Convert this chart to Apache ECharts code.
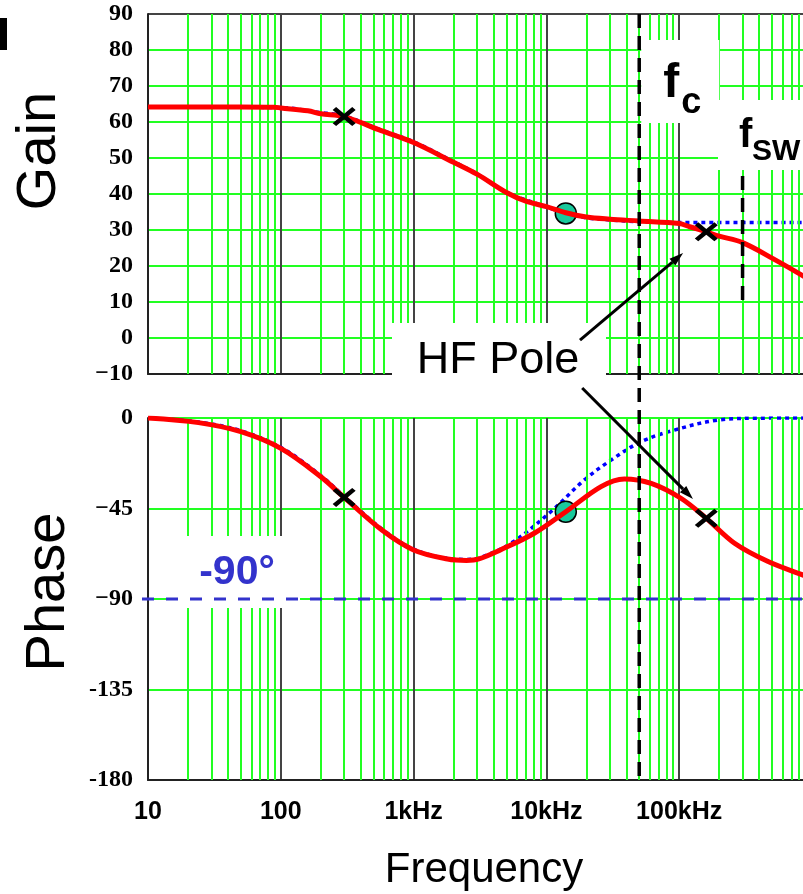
<!DOCTYPE html>
<html>
<head>
<meta charset="utf-8">
<script src="https://cdn.jsdelivr.net/npm/echarts@6/dist/echarts.min.js"></script>
<style>
  html, body { margin: 0; padding: 0; background: #fff; }
  #chart { width: 803px; height: 894px; }
</style>
</head>
<body>
<div id="chart"></div>
<script>
// Axis tick labels
const xTickLabels = ['10', '100', '1kHz', '10kHz', '100kHz'];
const gainTickLabels = ['\u221210', '0', '10', '20', '30', '40', '50', '60', '70', '80', '90'];
const phaseTickLabels = ['-180', '-135', '\u221290', '\u221245', '0'];

// Loop gain (dB): compensated response (red) and response without the HF pole (blue dotted)
const gainFreq = [10, 50, 90, 100, 160, 200, 300, 570, 1000, 2000, 3000, 5000, 7000, 10000, 14000, 20000, 30000, 50000, 100000, 120000, 160000, 200000, 300000, 500000, 877000, 1000000];
const gainRed  = [64.2, 64.2, 64.1, 63.9, 63.1, 62.3, 61.5, 57.6, 54.3, 48.8, 45.5, 40.4, 38.0, 36.5, 34.8, 33.6, 33.0, 32.5, 31.8, 30.9, 29.5, 28.3, 26.5, 22.2, 17.0, 15.3];
const gainBlueFreq = [10, 100, 200, 300, 570, 1000, 2000, 3000, 5000, 10000, 14000, 20000, 30000, 50000, 100000, 1000000];
const gainBlue     = [64.2, 64.0, 62.6, 61.7, 57.8, 54.5, 49.0, 45.6, 40.5, 36.4, 34.6, 33.4, 32.8, 32.3, 32.1, 32.1];

// Loop phase (degrees)
const phaseFreq = [10, 24, 50, 100, 200, 300, 577, 1000, 1800, 2500, 3100, 4500, 8100, 14000, 25800, 38600, 61500, 103000, 160000, 261000, 467000, 857000, 1000000];
const phaseRed  = [0, -2.3, -6.8, -15.1, -29.2, -39.5, -55.7, -65.6, -70.1, -70.8, -70.1, -65.6, -57.3, -46.6, -34.1, -30.3, -32.5, -39.9, -49.9, -62.3, -71.4, -78.1, -79.5];
const phaseBlueFreq = [10, 24, 50, 100, 200, 300, 577, 1000, 1800, 2500, 3100, 5400, 10800, 19300, 30700, 51600, 92000, 196000, 400000, 1000000];
const phaseBlue     = [0, -2.0, -6.3, -14.6, -28.6, -39.0, -55.2, -65.2, -69.8, -70.3, -69.6, -62.3, -46.6, -30.8, -20.9, -11.8, -6.0, -1.0, -0.1, 0];

// Pole (x) and zero (o) markers
const poleFreq  = [300, 160000];
const poleGain  = [61.5, 29.5];
const polePhase = [-39.5, -49.9];
const zeroFreq  = [14000];
const zeroGain  = [34.6];
const zeroPhase = [-46.6];

// Crossover and switching frequencies (Hz)
const fc = 50000;
const fsw = 300000;

const GREEN = '#22ff22';
const MAJOR = '#444444';

const pairs = (xs, ys) => xs.map((x, i) => [x, ys[i]]);

// minor log grid lines 2..9 within each decade
const minorLines = [];
for (let k = 1; k <= 5; k++) {
  for (let d = 2; d <= 9; d++) minorLines.push({ xAxis: d * Math.pow(10, k) });
}

const crossPath = 'path://M3,0 L10,7 L17,0 L20,3 L13,10 L20,17 L17,20 L10,13 L3,20 L0,17 L7,10 L0,3 Z';

function xAxisCfg(gridIndex, showLabels) {
  return {
    gridIndex, type: 'log', logBase: 10, min: 10, max: 1000000,
    axisLine: { show: true, onZero: false, lineStyle: { color: '#222', width: 2 } },
    axisTick: { show: false },
    axisLabel: showLabels ? {
      show: true, margin: 20, color: '#000',
      fontFamily: 'Liberation Sans', fontWeight: 'bold', fontSize: 25,
      formatter: v => xTickLabels[Math.round(Math.log10(v)) - 1] || ''
    } : { show: false },
    splitLine: { show: true, lineStyle: { color: MAJOR, width: 2 } }
  };
}

const gainSplitColors = [MAJOR].concat(Array(9).fill(GREEN), [MAJOR]);
const phaseSplitColors = [MAJOR, GREEN, GREEN, GREEN, GREEN];

const yLabel = {
  margin: 15, color: '#000',
  fontFamily: 'Liberation Serif', fontWeight: 'bold', fontSize: 24
};

const option = {
  animation: false,
  backgroundColor: '#fff',
  grid: [
    { left: 148, top: 14, width: 664, height: 360, outerBoundsMode: 'none', containLabel: false },
    { left: 148, top: 418, width: 664, height: 362, outerBoundsMode: 'none', containLabel: false }
  ],
  xAxis: [xAxisCfg(0, false), xAxisCfg(1, true)],
  yAxis: [
    {
      gridIndex: 0, type: 'value', min: -10, max: 90, interval: 10,
      axisLine: { show: true, onZero: false, lineStyle: { color: '#222', width: 2 } },
      axisTick: { show: false },
      axisLabel: Object.assign({ formatter: v => gainTickLabels[Math.round((v + 10) / 10)] }, yLabel),
      splitLine: { show: true, lineStyle: { color: gainSplitColors, width: 2 } }
    },
    {
      gridIndex: 1, type: 'value', min: -180, max: 0, interval: 45,
      axisLine: { show: true, onZero: false, lineStyle: { color: '#222', width: 2 } },
      axisTick: { show: false },
      axisLabel: Object.assign({ formatter: v => phaseTickLabels[Math.round((v + 180) / 45)] }, yLabel),
      splitLine: { show: true, lineStyle: { color: phaseSplitColors, width: 2 } }
    }
  ],
  series: [
    // minor frequency grid
    {
      type: 'line', xAxisIndex: 0, yAxisIndex: 0, data: [], z: 1, silent: true,
      markLine: { silent: true, symbol: ['none', 'none'], label: { show: false },
        lineStyle: { color: GREEN, width: 2, type: 'solid' }, data: minorLines }
    },
    {
      type: 'line', xAxisIndex: 1, yAxisIndex: 1, data: [], z: 1, silent: true,
      markLine: { silent: true, symbol: ['none', 'none'], label: { show: false },
        lineStyle: { color: GREEN, width: 2, type: 'solid' }, data: minorLines }
    },
    // responses without the HF pole
    {
      type: 'line', xAxisIndex: 0, yAxisIndex: 0, z: 3, smooth: 0.35, showSymbol: false,
      data: pairs(gainBlueFreq, gainBlue),
      lineStyle: { color: '#0000ff', width: 3.5, type: [4, 4], cap: 'butt' }
    },
    {
      type: 'line', xAxisIndex: 1, yAxisIndex: 1, z: 3, smooth: 0.35, showSymbol: false,
      data: pairs(phaseBlueFreq, phaseBlue),
      lineStyle: { color: '#0000ff', width: 3.5, type: [4, 4], cap: 'butt' }
    },
    // zero markers
    {
      type: 'scatter', xAxisIndex: 0, yAxisIndex: 0, z: 4, symbol: 'circle', symbolSize: 21,
      data: pairs(zeroFreq, zeroGain),
      itemStyle: { color: '#19c99c', borderColor: '#000', borderWidth: 1.5, opacity: 1 }
    },
    {
      type: 'scatter', xAxisIndex: 1, yAxisIndex: 1, z: 4, symbol: 'circle', symbolSize: 21,
      data: pairs(zeroFreq, zeroPhase),
      itemStyle: { color: '#19c99c', borderColor: '#000', borderWidth: 1.5, opacity: 1 }
    },
    // compensated responses
    {
      type: 'line', xAxisIndex: 0, yAxisIndex: 0, z: 5, smooth: 0.35, showSymbol: false,
      data: pairs(gainFreq, gainRed),
      lineStyle: { color: '#ff0000', width: 5 }
    },
    {
      type: 'line', xAxisIndex: 1, yAxisIndex: 1, z: 5, smooth: 0.35, showSymbol: false,
      data: pairs(phaseFreq, phaseRed),
      lineStyle: { color: '#ff0000', width: 5 }
    },
    // pole markers
    {
      type: 'scatter', xAxisIndex: 0, yAxisIndex: 0, z: 6, symbol: crossPath, symbolSize: [23, 19],
      data: pairs(poleFreq, poleGain), itemStyle: { color: '#000', opacity: 1 }
    },
    {
      type: 'scatter', xAxisIndex: 1, yAxisIndex: 1, z: 6, symbol: crossPath, symbolSize: [23, 19],
      data: pairs(poleFreq, polePhase), itemStyle: { color: '#000', opacity: 1 }
    }
  ]
};

const chart = echarts.init(document.getElementById('chart'), null, { renderer: 'canvas' });
chart.setOption(option);

const px = (g, f, v) => chart.convertToPixel({ gridIndex: g }, [f, v]);

function arrow(p0, p1) {
  const dx = p1[0] - p0[0], dy = p1[1] - p0[1];
  const len = Math.hypot(dx, dy);
  const ux = dx / len, uy = dy / len;
  const L = 14, W = 4.5;
  const bx = p1[0] - ux * L, by = p1[1] - uy * L;
  return [
    { type: 'line', z: 20, shape: { x1: p0[0], y1: p0[1], x2: bx, y2: by },
      style: { stroke: '#000', lineWidth: 3 } },
    { type: 'polygon', z: 20,
      shape: { points: [[p1[0], p1[1]], [bx - uy * W, by + ux * W], [bx + uy * W, by - ux * W]] },
      style: { fill: '#000' } }
  ];
}

const fcTop = px(0, fc, 90), fcBot = px(1, fc, -180);
const fswTop = px(0, fsw, 45), fswBot = px(0, fsw, 10);
const m90 = px(1, 10, -90);
const right = px(1, 1000000, -90);

const txt = (x, y, text, size, opts) => Object.assign({
  type: 'text', x, y, z: 30,
  style: Object.assign({ text, fill: '#000', font: 'normal ' + size + 'px "Liberation Sans", Arial, sans-serif',
    align: 'left', verticalAlign: 'middle' }, opts && opts.style)
}, opts && opts.el);

const elements = [
  // label backgrounds
  { type: 'rect', z: 10, shape: { x: fcTop[0] + 2, y: 40, width: 78, height: 83 }, style: { fill: '#fff' } },
  { type: 'rect', z: 10, shape: { x: 718, y: 100, width: 100, height: 70 }, style: { fill: '#fff' } },
  { type: 'rect', z: 10, shape: { x: 392, y: 323, width: 214, height: 82 }, style: { fill: '#fff' } },
  { type: 'rect', z: 10, shape: { x: 166, y: 536, width: 134, height: 72 }, style: { fill: '#fff' } },
  // -90 degree reference
  { type: 'line', z: 15, shape: { x1: m90[0] - 6, y1: m90[1], x2: right[0], y2: m90[1] },
    style: { stroke: '#3333cc', lineWidth: 3, lineDash: [12, 12] } },
  // crossover and switching frequency markers
  { type: 'line', z: 15, shape: { x1: fcTop[0], y1: fcTop[1], x2: fcBot[0], y2: fcBot[1] },
    style: { stroke: '#000', lineWidth: 3.5, lineDash: [14, 8] } },
  { type: 'line', z: 15, shape: { x1: fswTop[0], y1: fswTop[1], x2: fswBot[0], y2: fswBot[1] },
    style: { stroke: '#000', lineWidth: 3.5, lineDash: [14, 8] } },
  ...arrow(px(0, 17900, -0.6), px(0, 107000, 23.6)),
  ...arrow(px(1, 18600, 14.9), px(1, 127000, -40.3)),
  // texts
  txt(fcTop[0] + 24, 84, 'f', 48, { style: { font: 'bold 48px "Liberation Sans", Arial, sans-serif' } }),
  txt(fcTop[0] + 42, 103, 'c', 36, { style: { font: 'bold 36px "Liberation Sans", Arial, sans-serif' } }),
  txt(739, 136, 'f', 40, { style: { font: 'bold 40px "Liberation Sans", Arial, sans-serif' } }),
  txt(752, 152, 'SW', 30, { style: { font: 'bold 30px "Liberation Sans", Arial, sans-serif' } }),
  txt(498, 361, 'HF Pole', 45, { style: { align: 'center' } }),
  txt(237, 573, '-90\u00b0', 41, { style: { align: 'center', fill: '#3333cc', font: 'bold 41px "Liberation Sans", Arial, sans-serif' } }),
  txt(40, 151, 'Gain', 56, { style: { align: 'center' }, el: { rotation: Math.PI / 2 } }),
  txt(49, 592, 'Phase', 56, { style: { align: 'center' }, el: { rotation: Math.PI / 2 } }),
  txt(484, 870, 'Frequency', 42, { style: { align: 'center' } }),
  // panel tag at the upper-left corner
  { type: 'rect', z: 30, shape: { x: 0, y: 18, width: 7, height: 32 }, style: { fill: '#000' } }
];

chart.setOption({ graphic: { elements } });
</script>
</body>
</html>
